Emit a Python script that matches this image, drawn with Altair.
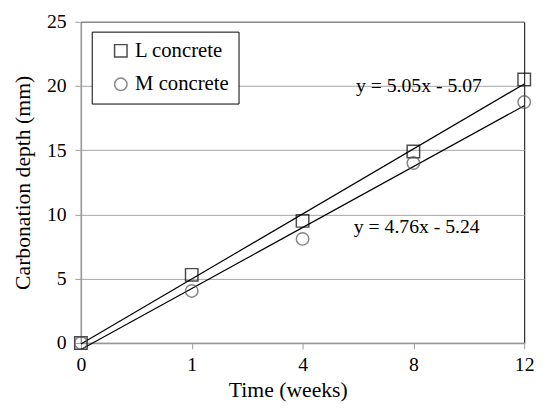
import altair as alt
import pandas as pd

weeks = ["0", "1", "4", "8", "12"]
idx = [0, 1, 2, 3, 4]
l_depth = [0.0, 5.3, 9.5, 14.9, 20.5]
m_depth = [0.0, 4.05, 8.1, 14.0, 18.75]
series = ["L concrete", "M concrete"]

eq_text = ["y = 5.05x  - 5.07", "y = 4.76x  - 5.24"]
eq_x = [3.05, 3.03]
eq_y = [19.96, 9.0]

rows = []
for i, w in enumerate(weeks):
    rows.append({"idx": idx[i], "week": w, "depth": l_depth[i], "series": series[0]})
    rows.append({"idx": idx[i], "week": w, "depth": m_depth[i], "series": series[1]})
df = pd.DataFrame(rows)
eq = pd.DataFrame({"text": eq_text, "x": eq_x, "y": eq_y})

FONT = "Liberation Serif"
label_expr = "[" + ",".join("'%s'" % w for w in weeks) + "][datum.value]"

x_scale = alt.Scale(domain=[0, 4], nice=False, zero=False)
y_scale = alt.Scale(domain=[0, 25], nice=False)

x_axis = alt.Axis(values=idx, labelExpr=label_expr, title="Time (weeks)", grid=False,
                  labelFont=FONT, titleFont=FONT, labelFlush=False,
                  labelPadding=6, titlePadding=5, titleX=210)
y_axis = alt.Axis(values=[0, 5, 10, 15, 20, 25], title="Carbonation depth (mm)", grid=True,
                  labelFont=FONT, titleFont=FONT,
                  labelPadding=9, titlePadding=12)

legend = alt.Legend(title=None, orient="none", legendX=11, legendY=10, labelFont=FONT)

base = alt.Chart(df)

points = base.mark_point(filled=False, size=160, strokeWidth=1.5).encode(
    x=alt.X("idx:Q", scale=x_scale, axis=x_axis),
    y=alt.Y("depth:Q", scale=y_scale, axis=y_axis),
    shape=alt.Shape("series:N", scale=alt.Scale(domain=series, range=["square", "circle"]),
                    legend=legend),
    color=alt.Color("series:N", scale=alt.Scale(domain=series, range=["#000000", "#555555"]),
                    legend=legend),
)

trend = base.transform_regression("idx", "depth", groupby=["series"]).mark_line(
    color="black", strokeWidth=1.2
).encode(
    x=alt.X("idx:Q", scale=x_scale, axis=x_axis),
    y=alt.Y("depth:Q", scale=y_scale, axis=y_axis),
    detail="series:N",
)

labels = alt.Chart(eq).mark_text(font=FONT, fontSize=20, color="black").encode(
    x=alt.X("x:Q", scale=x_scale, axis=x_axis),
    y=alt.Y("y:Q", scale=y_scale, axis=y_axis),
    text="text:N",
)

chart = alt.layer(trend, points, labels).properties(
    width=450, height=326,
    autosize=alt.AutoSizeParams(type="none"),
    padding={"left": 74, "top": 11, "right": 15, "bottom": 60},
).configure(
    background="white", font=FONT
).configure_view(
    stroke="black", strokeWidth=1
).configure_axis(
    labelFont=FONT, titleFont=FONT, labelFontSize=20, titleFontSize=22,
    labelColor="black", titleColor="black", titleFontWeight="normal",
    domainColor="#999999", domainWidth=1.5, tickColor="#999999", tickSize=6,
    gridColor="#a6a6a6", gridWidth=1,
).configure_legend(
    labelFont=FONT, labelFontSize=21, labelColor="black",
    symbolSize=160, symbolStrokeWidth=1.5,
    strokeColor="black", fillColor="white",
    padding=9, rowPadding=12, symbolOffset=10, labelOffset=4,
)

chart.save("out.html", embed_options={"renderer": "svg", "actions": False})
